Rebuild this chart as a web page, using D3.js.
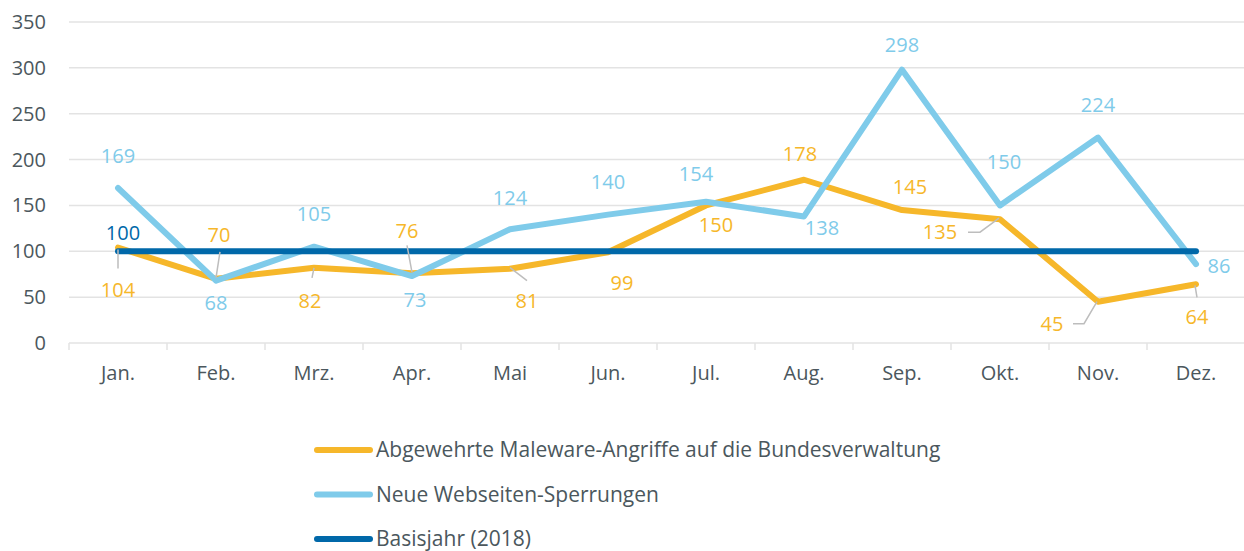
<!DOCTYPE html>
<html>
<head>
<meta charset="utf-8">
<script src="https://cdn.jsdelivr.net/npm/d3@7"></script>
<style>
  body { margin: 0; background: #fff; }
  svg { display: block; font-family: "Open Sans", "Noto Sans", sans-serif; }
</style>
</head>
<body>
<svg width="1244" height="551"></svg>
<script>
// Data
const months = ["Jan.", "Feb.", "Mrz.", "Apr.", "Mai", "Jun.", "Jul.", "Aug.", "Sep.", "Okt.", "Nov.", "Dez."];
const malware = [104, 70, 82, 76, 81, 99, 150, 178, 145, 135, 45, 64];
const sperrungen = [169, 68, 105, 73, 124, 140, 154, 138, 298, 150, 224, 86];
const basis = [100, 100, 100, 100, 100, 100, 100, 100, 100, 100, 100, 100];
const yTicks = [0, 50, 100, 150, 200, 250, 300, 350];
const seriesNames = ["Abgewehrte Maleware-Angriffe auf die Bundesverwaltung", "Neue Webseiten-Sperrungen", "Basisjahr (2018)"];

// label placement (pixel offsets from the point)
const malwareLabelOffsets = [[0, 42], [3, -44], [-4, 33], [-5, -42], [17, 32], [14, 31], [10, 20], [-4, -26], [8, -23], [-60, 13], [-46, 22], [1, 33]];
const sperrLabelOffsets = [[0, -32], [0, 22], [0, -33], [3, 24], [0, -31], [0, -33], [-10, -28], [18, 12], [0, -25], [4, -43], [0, -33], [23, 2]];
const malwareLeaders = {
  0: [[0, 2], [0, 21]],
  1: [[4, -27], [0, -1]],
  2: [[0, 0], [-2, 10]],
  3: [[-5, -28], [0, -1]],
  4: [[0, -1], [17, 12]],
  9: [[-32, 13], [-20, 13], [-1, -1]],
  10: [[-25, 22], [-14, 22], [-1, 0]],
  11: [[-1, 1], [1, 13]]
};

const svg = d3.select("svg");
const margin = { top: 22, right: 0, bottom: 208, left: 69 };
const width = 1244, height = 551;

const x = d3.scaleBand().domain(months).range([margin.left, 1245]);
const y = d3.scaleLinear().domain([0, 350]).range([343, margin.top]);
const px = i => x(months[i]) + x.bandwidth() / 2;

const colors = ["#f6b72a", "#7fcbea", "#0068a9"];
const textColor = "#4b575d";

// Gridlines
svg.append("g")
  .selectAll("line")
  .data(yTicks)
  .join("line")
  .attr("x1", margin.left)
  .attr("x2", width)
  .attr("y1", d => y(d))
  .attr("y2", d => y(d))
  .attr("stroke", "#e3e3e3")
  .attr("stroke-width", 1.5);

// Y axis labels
svg.append("g")
  .selectAll("text")
  .data(yTicks)
  .join("text")
  .attr("x", 46)
  .attr("y", d => y(d))
  .attr("dy", "0.35em")
  .attr("text-anchor", "end")
  .attr("fill", textColor)
  .style("font-size", "20px")
  .text(d => d);

// X axis
const xAxis = svg.append("g")
  .attr("transform", `translate(0,${y(0)})`)
  .call(d3.axisBottom(x).tickSize(0).tickPadding(23));
xAxis.select(".domain").remove();
xAxis.selectAll("text")
  .attr("fill", textColor)
  .style("font-size", "20px")
  .style("font-family", "'Open Sans', 'Noto Sans', sans-serif");

// band boundary ticks
const bounds = months.map(m => x(m)).concat([x(months[11]) + x.bandwidth()]);
svg.append("g")
  .selectAll("line")
  .data(bounds)
  .join("line")
  .attr("x1", d => d)
  .attr("x2", d => d)
  .attr("y1", y(0))
  .attr("y2", y(0) + 7)
  .attr("stroke", "#e3e3e3")
  .attr("stroke-width", 1.5);

// Lines
const line = d3.line()
  .x((d, i) => px(i))
  .y(d => y(d));

[malware, sperrungen, basis].forEach((data, k) => {
  svg.append("path")
    .datum(data)
    .attr("fill", "none")
    .attr("stroke", colors[k])
    .attr("stroke-width", 6)
    .attr("stroke-linejoin", "round")
    .attr("stroke-linecap", "round")
    .attr("d", line);
});

// Leader lines
Object.keys(malwareLeaders).forEach(k => {
  const i = +k;
  const pts = malwareLeaders[k].map(p => [px(i) + p[0], y(malware[i]) + p[1]]);
  svg.append("path")
    .attr("d", d3.line()(pts))
    .attr("fill", "none")
    .attr("stroke", "#bdbdbd")
    .attr("stroke-width", 1.5);
});

// Data labels
function labels(data, offsets, color) {
  svg.append("g")
    .selectAll("text")
    .data(data)
    .join("text")
    .attr("x", (d, i) => px(i) + offsets[i][0])
    .attr("y", (d, i) => y(d) + offsets[i][1])
    .attr("dy", "0.35em")
    .attr("text-anchor", "middle")
    .attr("fill", color)
    .style("font-size", "20px")
    .text(d => d);
}
labels(malware, malwareLabelOffsets, colors[0]);
labels(sperrungen, sperrLabelOffsets, colors[1]);

// Basis label (Jan only)
svg.append("text")
  .attr("x", px(0) + 5)
  .attr("y", y(basis[0]) - 18)
  .attr("dy", "0.35em")
  .attr("text-anchor", "middle")
  .attr("fill", colors[2])
  .style("font-size", "20px")
  .text(basis[0]);

// Legend
const legend = svg.append("g")
  .selectAll("g")
  .data(seriesNames)
  .join("g")
  .attr("transform", (d, i) => `translate(313,${450 + i * 44.5})`);
legend.append("line")
  .attr("x1", 4)
  .attr("x2", 57)
  .attr("stroke", (d, i) => colors[i])
  .attr("stroke-width", 6)
  .attr("stroke-linecap", "round");
legend.append("text")
  .attr("x", 63)
  .attr("dy", "0.35em")
  .attr("fill", textColor)
  .style("font-size", "21px")
  .text(d => d);
</script>
</body>
</html>
